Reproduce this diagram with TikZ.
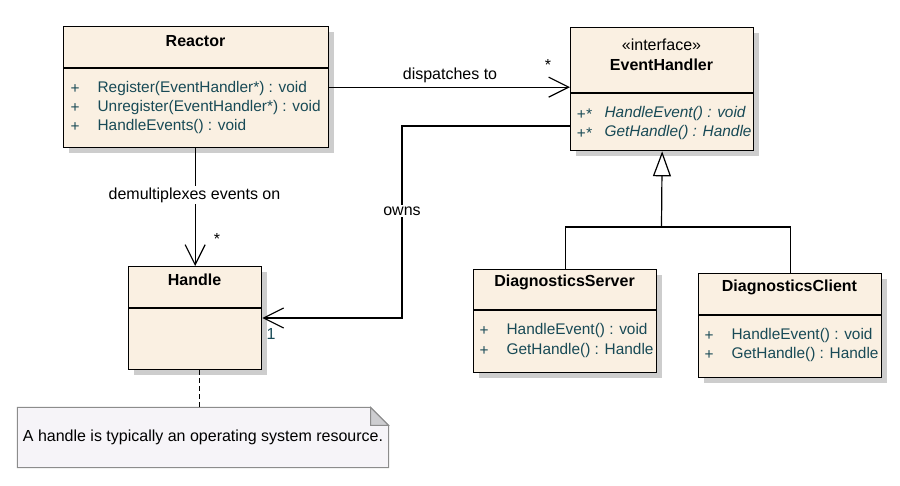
\documentclass[tikz,border=0pt]{standalone}
\usepackage{fontspec}
\setmainfont{Liberation Sans}
\usetikzlibrary{arrows.meta,shadows,calc}
\definecolor{boxfill}{RGB}{250,240,226}
\definecolor{mtext}{RGB}{24,74,86}
\definecolor{notefill}{RGB}{246,244,248}
\definecolor{noteedge}{RGB}{140,140,140}
\definecolor{shadowc}{RGB}{205,205,205}
\definecolor{foldc}{RGB}{205,205,208}
\newcommand\fsz{\fontsize{16}{19}\selectfont}
\newcommand\msz{\fontsize{15.4}{19}\selectfont}
\begin{document}
\begin{tikzpicture}[x=1pt,y=-1pt,line width=1.2pt,
  font=\fsz,
  cls/.style={draw=black,fill=boxfill,line width=1.3pt,anchor=north west,inner sep=0pt,
    drop shadow={shadow xshift=5pt,shadow yshift=-5pt,fill=shadowc,opacity=1}},
  ttl/.style={font=\fsz\bfseries,inner sep=0pt},
  stereo/.style={inner sep=0pt},
  vis/.style={text=mtext,inner sep=0pt,font=\msz},
  meth/.style={text=mtext,anchor=west,inner sep=0pt,font=\msz},
  imeth/.style={meth,font=\msz\itshape},
  lbl/.style={inner sep=1pt},
  lblw/.style={fill=white,inner sep=2pt},
  openarrow/.style={-{Straight Barb[length=20pt,width=20pt]}},
  divider/.style={line width=1.3pt}
]
\useasboundingbox (0,0) rectangle (900,485);

% ---- classes
\node[cls,minimum width=265pt,minimum height=121pt] (reactor) at (63,26) {};
\node[cls,minimum width=183pt,minimum height=123pt] (eh) at (570,27) {};
\node[cls,minimum width=133pt,minimum height=103pt] (handle) at (128,266) {};
\node[cls,minimum width=183pt,minimum height=103pt] (ds) at (473,269) {};
\node[cls,minimum width=183pt,minimum height=104pt] (dc) at (698,273) {};

% dividers
\draw[divider] (reactor.west |- 0,68) -- (reactor.east |- 0,68);
\draw[divider] (eh.west |- 0,93) -- (eh.east |- 0,93);
\draw[divider] (handle.west |- 0,308) -- (handle.east |- 0,308);
\draw[divider] (ds.west |- 0,310) -- (ds.east |- 0,310);
\draw[divider] (dc.west |- 0,315) -- (dc.east |- 0,315);

% Reactor text
\node[ttl] (reactorT) at (195.5,41) {Reactor};
\node[vis] (r1p) at (75,89) {+};
\node[meth] (r1) at (97,89) {Register(EventHandler*) : void};
\node[vis] (r2p) at (75,108) {+};
\node[meth] (r2) at (97,108) {Unregister(EventHandler*) : void};
\node[vis] (r3p) at (75,127) {+};
\node[meth] (r3) at (97,127) {HandleEvents() : void};

% EventHandler text
\node[stereo] (ehS) at (661.5,45) {«interface»};
\node[ttl] (ehT) at (661.5,65) {EventHandler};
\node[imeth] (e1p) at (576,114) {+*};
\node[imeth] (e1) at (604,114) {HandleEvent() : void};
\node[imeth] (e2p) at (576,133) {+*};
\node[imeth] (e2) at (604,133) {GetHandle() : Handle};

% Handle text
\node[ttl] (handleT) at (194.5,280) {Handle};

% DiagnosticsServer text
\node[ttl] (dsT) at (564.5,282) {DiagnosticsServer};
\node[vis] (d1p) at (484,331) {+};
\node[meth] (d1) at (506,331) {HandleEvent() : void};
\node[vis] (d2p) at (484,351) {+};
\node[meth] (d2) at (506,351) {GetHandle() : Handle};

% DiagnosticsClient text
\node[ttl] (dcT) at (789.5,287) {DiagnosticsClient};
\node[vis] (c1p) at (709,336) {+};
\node[meth] (c1) at (731,336) {HandleEvent() : void};
\node[vis] (c2p) at (709,355) {+};
\node[meth] (c2) at (731,355) {GetHandle() : Handle};

% ---- connectors
% dispatches to
\draw[openarrow] (reactor.east) -- (reactor.east -| eh.west);
\node[lbl] (dispL) at (450,75) {dispatches to};
\node[lbl] (dispM) at (548,65) {*};

% demultiplexes events on
\draw[openarrow] (handle.north |- reactor.south) -- (handle.north);
\node[lblw] (demL) at (194.5,195) {demultiplexes events on};
\node[lbl] (demM) at (217,239) {*};

% owns
\coordinate (ehOwn) at ($(eh.north west)+(0,99)$);
\coordinate (hIn) at ($(handle.north east)+(0,52)$);
\coordinate (ownsX) at (402,0);
\draw[openarrow] (ehOwn) -- (ehOwn -| ownsX) |- (hIn);
\node[lblw] (ownsL) at (402,211) {owns};
\node[lbl,text=mtext] (ownsM) at (271,334) {1};

% generalization
\coordinate (split) at (661.5,227);
\draw (ds.north) |- (split) -| (dc.north);
\draw[-{Triangle[length=25pt,width=18pt,fill=white]}] (split) -- (eh.south);

% ---- note
\node[inner sep=0pt,minimum width=370pt,minimum height=59pt] (note) at (203,437.5) {};
\draw[noteedge,fill=notefill,line width=1pt]
  (note.north west) -- ($(note.north east)+(-18,0)$) -- ($(note.north east)+(0,18)$)
  -- (note.south east) -- (note.south west) -- cycle;
\draw[noteedge,fill=foldc,line width=1pt]
  ($(note.north east)+(-18,0)$) -- ($(note.north east)+(-18,18)$) -- ($(note.north east)+(0,18)$) -- cycle;
\node[inner sep=0pt] (noteT) at (note.center) {A handle is typically an operating system resource.};
\coordinate (hs) at ($(handle.south)+(4.5,0)$);
\draw[dashed,dash pattern=on 5pt off 3pt,line width=1pt] (hs) -- (hs |- note.north);
\end{tikzpicture}
\end{document}
